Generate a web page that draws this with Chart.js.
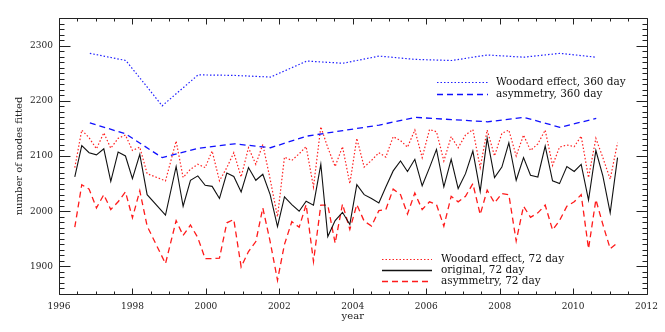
<!DOCTYPE html>
<html>
<head>
<meta charset="utf-8">
<script src="https://cdn.jsdelivr.net/npm/chart.js@4"></script>
<style>
  html, body { margin: 0; padding: 0; background: #fff; }
  canvas { display: block; }
</style>
</head>
<body>
<canvas id="c" width="665" height="332"></canvas>
<script>
// ---- data ----
const years72 = [1996.43,1996.62,1996.82,1997.02,1997.22,1997.41,1997.61,1997.81,1998.00,1998.20,1998.40,
  1998.90,1999.19,1999.38,1999.58,1999.78,1999.98,2000.17,2000.37,2000.57,2000.76,2000.96,2001.16,2001.36,
  2001.55,2001.75,2001.95,2002.14,2002.34,2002.54,2002.73,2002.93,2003.13,2003.32,2003.52,2003.72,2003.92,
  2004.11,2004.31,2004.51,2004.71,2004.90,2005.10,2005.30,2005.49,2005.69,2005.89,2006.09,2006.28,2006.48,
  2006.68,2006.87,2007.07,2007.27,2007.47,2007.66,2007.86,2008.06,2008.25,2008.45,2008.65,2008.84,2009.04,
  2009.24,2009.44,2009.63,2009.83,2010.03,2010.22,2010.42,2010.62,2010.81,2011.01,2011.21];
const original72 = [2062,2119,2106,2102,2113,2054,2107,2100,2059,2103,2030,
  1993,2081,2009,2056,2064,2047,2045,2023,2069,2063,2035,2079,2056,
  2067,2030,1972,2026,2012,2000,2018,2011,2085,1954,1983,1998,1976,
  2048,2030,2023,2015,2044,2073,2091,2072,2094,2046,2079,2112,2044,
  2094,2041,2068,2109,2036,2132,2061,2080,2124,2056,2097,2065,2062,
  2118,2055,2050,2081,2072,2085,2020,2110,2064,1997,2097];
const woodard72 = [2079,2147,2133,2113,2142,2114,2132,2138,2110,2116,2068,
  2055,2127,2061,2076,2085,2079,2109,2055,2079,2106,2062,2115,2085,
  2121,2058,1990,2098,2092,2104,2117,2044,2153,2115,2081,2117,2050,
  2132,2080,2092,2106,2098,2135,2128,2116,2147,2097,2148,2144,2091,
  2135,2115,2138,2148,2079,2147,2100,2141,2147,2100,2138,2110,2122,
  2147,2083,2116,2120,2117,2136,2061,2132,2097,2058,2124];
const asym72 = [1971,2048,2040,2006,2030,2003,2017,2035,1988,2037,1973,
  1905,1983,1956,1975,1952,1914,1914,1915,1979,1985,1899,1927,1945,
  2006,1945,1875,1940,1981,1971,2012,1909,2011,2011,1942,2013,1967,
  2012,1982,1973,2001,2003,2040,2030,1995,2033,2003,2017,2012,1973,
  2027,2017,2027,2050,1994,2038,2015,2032,2030,1946,2009,1989,1997,
  2011,1966,1983,2009,2017,2030,1932,2021,1976,1932,1943];

const years360 = [1996.84,1997.82,1998.81,1999.79,2000.78,2001.76,2002.75,2003.73,2004.72,2005.70,
  2006.69,2007.67,2008.66,2009.64,2010.63];
const woodard360 = [2286,2273,2191,2247,2246,2243,2272,2268,2281,2275,2273,2283,2279,2286,2279];
const asym360 = [2160,2140,2097,2114,2122,2115,2136,2146,2156,2170,2166,2162,2170,2152,2168];

const xTicks = [1996,1998,2000,2002,2004,2006,2008,2010,2012];
const yTicks = [1900,2000,2100,2200,2300];

const FONT = 'DejaVu Serif';

function pts(xs, ys) { return xs.map((x, i) => ({x: x, y: ys[i]})); }

const datasets = [
  {label:'Woodard effect, 360 day', data: pts(years360, woodard360), borderColor:'#2020ff', borderDash:[1.5,2], borderWidth:1.2, legend:'top'},
  {label:'asymmetry, 360 day', data: pts(years360, asym360), borderColor:'#1010ff', borderDash:[6,4], borderWidth:1.3, legend:'top'},
  {label:'Woodard effect, 72 day', data: pts(years72, woodard72), borderColor:'#ff2020', borderDash:[1.5,2], borderWidth:1.2, legend:'bottom'},
  {label:'original, 72 day', data: pts(years72, original72), borderColor:'#111111', borderDash:[], borderWidth:1.1, legend:'bottom'},
  {label:'asymmetry, 72 day', data: pts(years72, asym72), borderColor:'#ff1a1a', borderDash:[6,4], borderWidth:1.3, legend:'bottom'}
].map(d => Object.assign({pointRadius:0, tension:0, fill:false}, d));

const framePlugin = {
  id: 'frame',
  afterDraw(chart) {
    const {ctx, chartArea: a, scales: {x, y}} = chart;
    ctx.save();
    ctx.strokeStyle = '#222';
    ctx.lineWidth = 1;
    ctx.beginPath();
    const L = Math.round(a.left) + 0.5, R = Math.round(a.right) + 0.5;
    const T = Math.round(a.top) + 0.5, B = Math.round(a.bottom) + 0.5;
    ctx.rect(L, T, R - L, B - T);
    // y ticks
    for (let v = y.min; v <= y.max + 0.001; v += 10) {
      const py = Math.round(y.getPixelForValue(v)) + 0.5;
      const len = (Math.round(v) % 100 === 0) ? 11 : 5;
      ctx.moveTo(L, py); ctx.lineTo(L + len, py);
      ctx.moveTo(R, py); ctx.lineTo(R - len, py);
    }
    // x ticks
    for (let v = x.min; v <= x.max + 0.001; v += 0.5) {
      const px = Math.round(x.getPixelForValue(v)) + 0.5;
      const len = (Math.abs(v % 2) < 0.001) ? 6 : 3;
      ctx.moveTo(px, B); ctx.lineTo(px, B - len);
      ctx.moveTo(px, T); ctx.lineTo(px, T + len);
    }
    ctx.stroke();

    // legends
    ctx.font = '10.5px "' + FONT + '"';
    ctx.textBaseline = 'middle';
    ctx.textAlign = 'left';
    const groups = {
      top: {x0: 437, x1: 488, tx: 496, y0: 82, dy: 11.6},
      bottom: {x0: 382, x1: 432, tx: 441, y0: 258.5, dy: 11.2}
    };
    const counters = {top: 0, bottom: 0};
    chart.data.datasets.forEach(ds => {
      const g = groups[ds.legend];
      const yy = Math.round(g.y0 + g.dy * counters[ds.legend]++) + 0.5;
      ctx.beginPath();
      ctx.strokeStyle = ds.borderColor;
      ctx.lineWidth = ds.legend === 'bottom' && ds.borderDash.length === 0 ? 1.6 : ds.borderWidth;
      ctx.setLineDash(ds.borderDash);
      ctx.moveTo(g.x0, yy); ctx.lineTo(g.x1, yy);
      ctx.stroke();
      ctx.setLineDash([]);
      ctx.fillStyle = '#111';
      ctx.fillText(ds.label, g.tx, yy);
    });
    ctx.restore();
  }
};

new Chart(document.getElementById('c'), {
  type: 'line',
  data: {datasets},
  options: {
    responsive: false,
    animation: false,
    events: [],
    layout: {padding: {left: 0, right: 18, top: 18, bottom: 0}},
    scales: {
      x: {
        type: 'linear', min: 1996, max: 2012,
        afterBuildTicks: s => { s.ticks = xTicks.map(v => ({value: v})); },
        afterFit: s => { s.height = 38; },
        grid: {display: false, drawTicks: false},
        border: {display: false},
        ticks: {font: {family: FONT, size: 9}, color: '#222', padding: 7, maxRotation: 0,
                callback: v => String(v)},
        title: {display: true, text: 'year', font: {family: FONT, size: 10}, color: '#222',
                padding: {top: 0, bottom: 10}}
      },
      y: {
        type: 'linear', min: 1850, max: 2350,
        afterBuildTicks: s => { s.ticks = yTicks.map(v => ({value: v})); },
        afterFit: s => { s.width = 59; },
        grid: {display: false, drawTicks: false},
        border: {display: false},
        ticks: {font: {family: FONT, size: 9}, color: '#222', padding: 6,
                callback: v => String(v)},
        title: {display: true, text: 'number of modes fitted', font: {family: FONT, size: 10}, color: '#222',
                padding: {top: 13, bottom: 0}}
      }
    },
    plugins: {legend: {display: false}, tooltip: {enabled: false}}
  },
  plugins: [framePlugin]
});
</script>
</body>
</html>
